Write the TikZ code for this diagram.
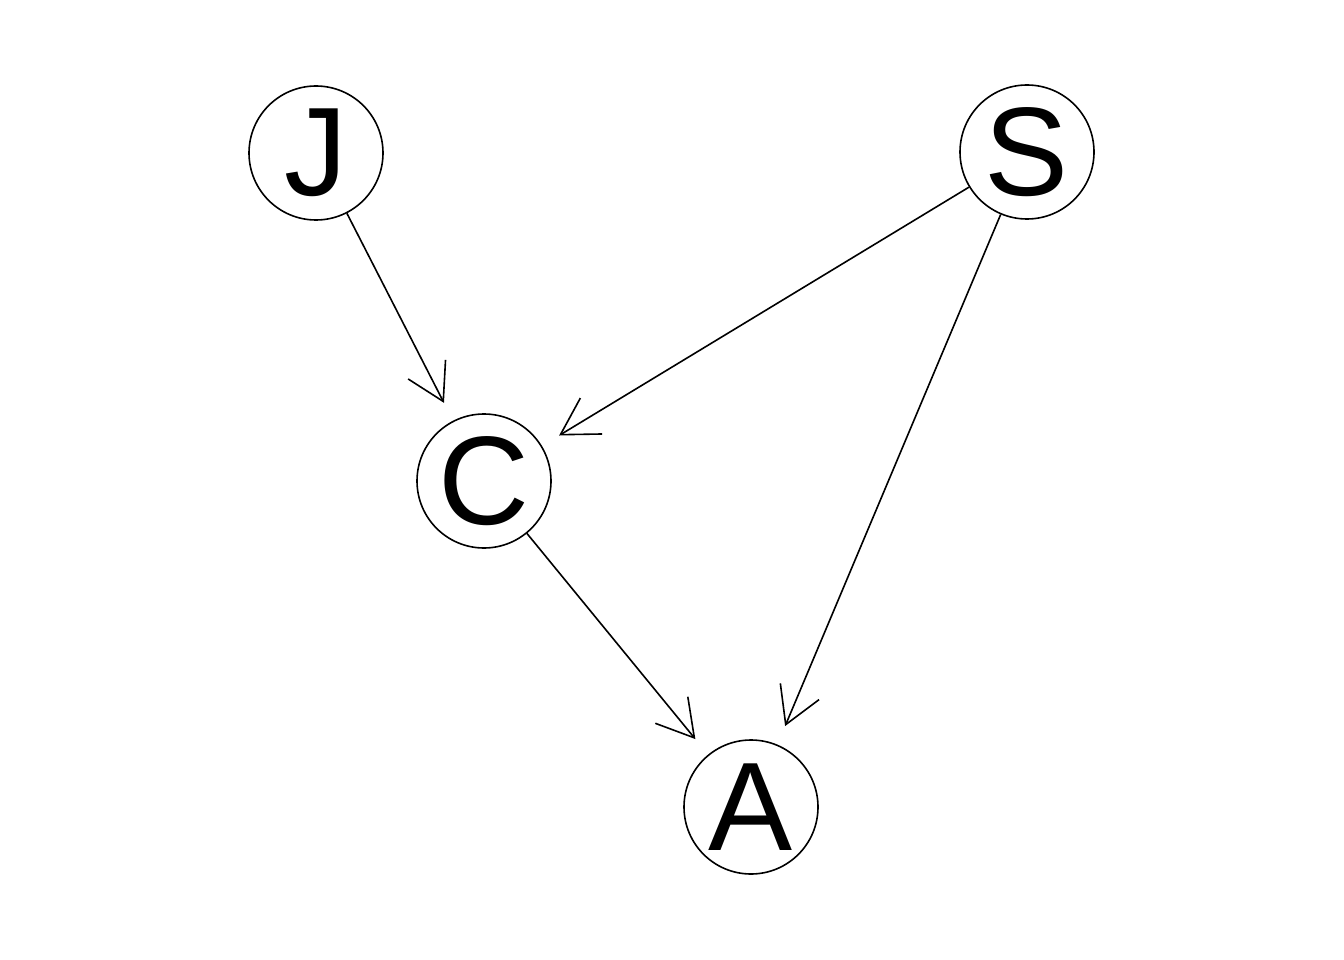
\documentclass[tikz,border=0pt]{standalone}
\usepackage{fontspec}
\setmainfont{Liberation Sans}
\usetikzlibrary{arrows.meta}
\begin{document}
\begin{tikzpicture}[x=1pt,y=1pt,
  vertex/.style={circle,draw,line width=1.6pt,minimum size=134pt,inner sep=0pt,
    font=\fontsize{126}{126}\selectfont},
  edge/.style={line width=1.6pt,shorten >=20pt,
    -{Straight Barb[length=36pt,width=42pt,line width=1.6pt]}}]
  \useasboundingbox (0,0) rectangle (1344,-960);
  \node[vertex] (J) at (316,-153) {J};
  \node[vertex] (S) at (1027,-152) {S};
  \node[vertex] (C) at (484,-481) {C};
  \node[vertex] (A) at (751,-807) {A};
  \draw[edge] (J) -- (C);
  \draw[edge] (S) -- (C);
  \draw[edge] (S) -- (A);
  \draw[edge] (C) -- (A);
\end{tikzpicture}
\end{document}
